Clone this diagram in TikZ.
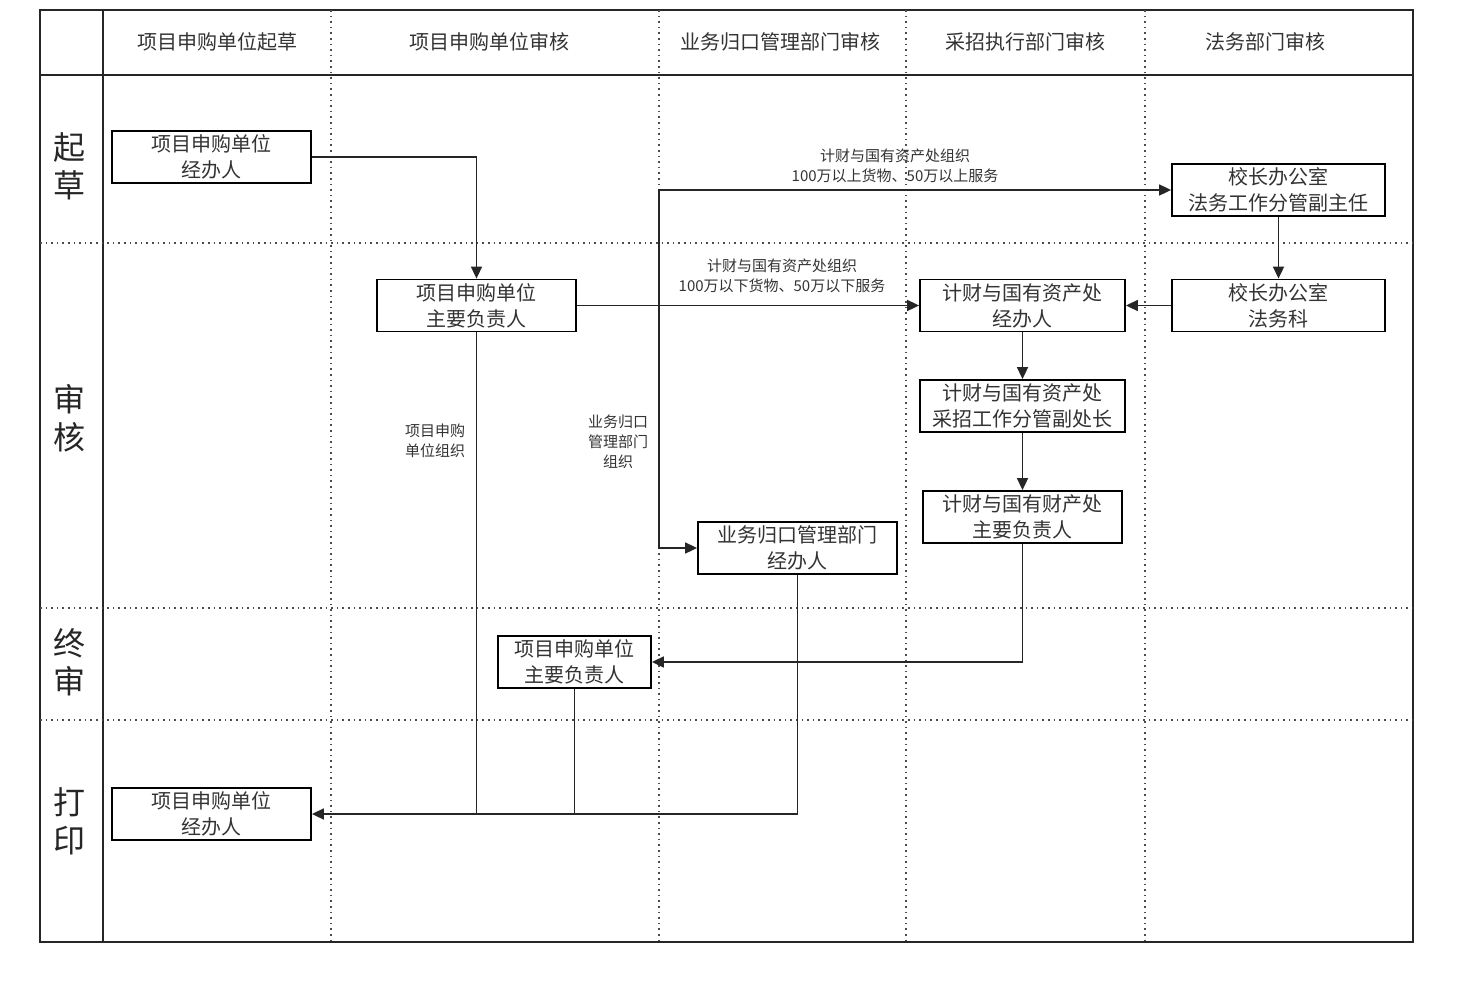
\documentclass[tikz,border=0pt]{standalone}
\usepackage{fontspec}
\setmainfont{Noto Sans CJK SC}
\usetikzlibrary{arrows.meta}

\tikzset{
  box/.style={draw, fill=white, line width=0.9pt, align=center, inner sep=0pt,
    minimum width=99.5pt, minimum height=26pt, text=black!80,
    font=\fontsize{10}{13}\selectfont},
  lane/.style={line width=0.8pt, black!85},
  sep/.style={dotted, line width=0.8pt, black!70},
  flow/.style={line width=0.85pt, black!85, -{Triangle[length=6pt,width=5.5pt]}},
  link/.style={line width=0.85pt, black!85},
  note/.style={align=center, text=black!80, font=\fontsize{7.5}{10}\selectfont},
  head/.style={text=black!80, font=\fontsize{10}{12}\selectfont},
  phase/.style={align=center, text=black!85, font=\fontsize{16}{19}\selectfont},
}

\begin{document}
\begin{tikzpicture}[x=0.5pt,y=-0.5pt]
  \useasboundingbox (0,0) rectangle (1476,990);

  % lanes
  \draw[lane] (40,10) rectangle (1413,942);
  \draw[lane] (40,75) -- (1413,75);
  \draw[lane] (103,10) -- (103,942);
  \foreach \x in {331,659,906,1145}
    \draw[sep] (\x,10) -- (\x,942);
  \foreach \y in {243,608,720}
    \draw[sep] (40,\y) -- (1413,\y);

  % column heads
  \node[head] (hDraft) at (217,42) {项目申购单位起草};
  \node[head] (hUnit) at (489,42) {项目申购单位审核};
  \node[head] (hDept) at (780,42) {业务归口管理部门审核};
  \node[head] (hBuy) at (1025,42) {采招执行部门审核};
  \node[head] (hLaw) at (1265,42) {法务部门审核};

  % row heads
  \node[phase] (pDraft) at (70,166) {起\\草};
  \node[phase] (pCheck) at (70,418) {审\\核};
  \node[phase] (pFinal) at (70,662) {终\\审};
  \node[phase] (pPrint) at (70,821) {打\\印};

  % steps
  \node[box] (draft) at (211.5,157) {项目申购单位\\经办人};
  \node[box] (unitHead) at (476.5,305.5) {项目申购单位\\主要负责人};
  \node[box, minimum width=106.5pt] (law1) at (1278.5,190) {校长办公室\\法务工作分管副主任};
  \node[box, minimum width=106.5pt] (law2) at (1278.5,305.5) {校长办公室\\法务科};
  \node[box, minimum width=102.5pt] (fin1) at (1022.5,305.5) {计财与国有资产处\\经办人};
  \node[box, minimum width=102.5pt] (fin2) at (1022.5,406) {计财与国有资产处\\采招工作分管副处长};
  \node[box] (fin3) at (1022.5,517) {计财与国有财产处\\主要负责人};
  \node[box] (dept) at (797.5,548) {业务归口管理部门\\经办人};
  \node[box, minimum width=76.5pt] (finalHead) at (574.5,662) {项目申购单位\\主要负责人};
  \node[box] (print) at (211.5,814) {项目申购单位\\经办人};

  % flow
  \coordinate (fork) at (659,305.5);
  \draw[flow] (draft.east) -| (unitHead.north);
  \draw[flow] (unitHead.east) -- (fin1.west);
  \draw[flow] (fork) |- (law1.west);
  \draw[flow] (fork) |- (dept.west);
  \draw[flow] (law1) -- (law2);
  \draw[flow] (law2) -- (fin1);
  \draw[flow] (fin1) -- (fin2);
  \draw[flow] (fin2) -- (fin3);
  \draw[flow] (fin3.south) |- (finalHead.east);
  \draw[link] (unitHead.south) -- (unitHead.south |- print.east);
  \draw[link] (finalHead.south) -- (finalHead.south |- print.east);
  \draw[flow] (dept.south) |- (print.east);

  % conditions
  \node[note] (bigBuy) at (895,166) {计财与国有资产处组织\\100万以上货物、50万以上服务};
  \node[note] (smallBuy) at (782,276) {计财与国有资产处组织\\100万以下货物、50万以下服务};
  \node[note] (unitOrg) at (435,441) {项目申购\\单位组织};
  \node[note] (deptOrg) at (618,442) {业务归口\\管理部门\\组织};
\end{tikzpicture}
\end{document}
